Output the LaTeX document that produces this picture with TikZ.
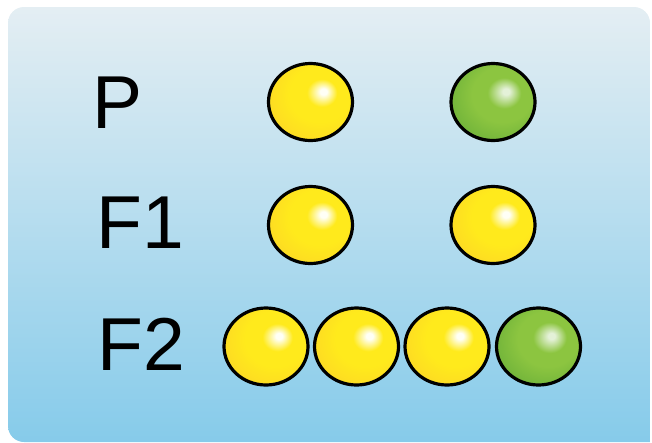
\documentclass[tikz,border=0pt]{standalone}
\usepackage{fontspec}
\setmainfont{Liberation Sans}
\definecolor{bgtop}{HTML}{E4EEF3}
\definecolor{bgbot}{HTML}{86CBEA}
\definecolor{yA}{HTML}{FFFFF6}
\definecolor{yB}{HTML}{FFEA1C}
\definecolor{yC}{HTML}{FCD426}
\definecolor{yD}{HTML}{F1B424}
\definecolor{gA}{HTML}{E4F1D8}
\definecolor{gB}{HTML}{8CC540}
\definecolor{gC}{HTML}{62AA37}
\definecolor{gD}{HTML}{408B2E}
\pgfdeclareradialshading{yballsh}{\pgfpoint{8bp}{7bp}}{color(0bp)=(yA); color(2bp)=(yA); color(9bp)=(yB); color(18bp)=(yB); color(36bp)=(yC); color(60bp)=(yD)}
\pgfdeclareradialshading{gballsh}{\pgfpoint{8bp}{7bp}}{color(0bp)=(gA); color(2bp)=(gA); color(10bp)=(gB); color(18bp)=(gB); color(38bp)=(gC); color(60bp)=(gD)}
\tikzset{
  ballbase/.style={ellipse, minimum width=84pt, minimum height=77pt, inner sep=0pt, draw=black, line width=3.2pt},
  yball/.style={ballbase, shading=yballsh},
  gball/.style={ballbase, shading=gballsh},
  lbl/.style={anchor=base west, inner sep=0pt, font=\fontsize{75}{75}\selectfont, text=black}
}
\usetikzlibrary{shapes.geometric}
\begin{document}
\begin{tikzpicture}[x=1pt,y=-1pt]
\useasboundingbox (0,0) rectangle (652,442);
\begin{scope}
\clip (8,23) arc[start angle=180, end angle=270, radius=16] -- (634,7)
  arc[start angle=270, end angle=360, radius=16] -- (650,442) -- (24,442)
  arc[start angle=90, end angle=180, radius=16] -- cycle;
\shade[top color=bgtop, bottom color=bgbot] (0,7) rectangle (652,442);
\end{scope}
\node[lbl] (lp) at (92,128) {P};
\node[lbl] (lf1) at (96,248) {F1};
\node[lbl] (lf2) at (97,370) {F2};
\node[yball] (p1) at (310.5,102) {};
\node[gball] (p2) at (493,102) {};
\node[yball] (f11) at (310.5,225) {};
\node[yball] (f12) at (493,225) {};
\node[yball] (f21) at (266,346.5) {};
\node[yball] (f22) at (356.5,346.5) {};
\node[yball] (f23) at (447,346.5) {};
\node[gball] (f24) at (538.5,346.5) {};
\end{tikzpicture}
\end{document}
